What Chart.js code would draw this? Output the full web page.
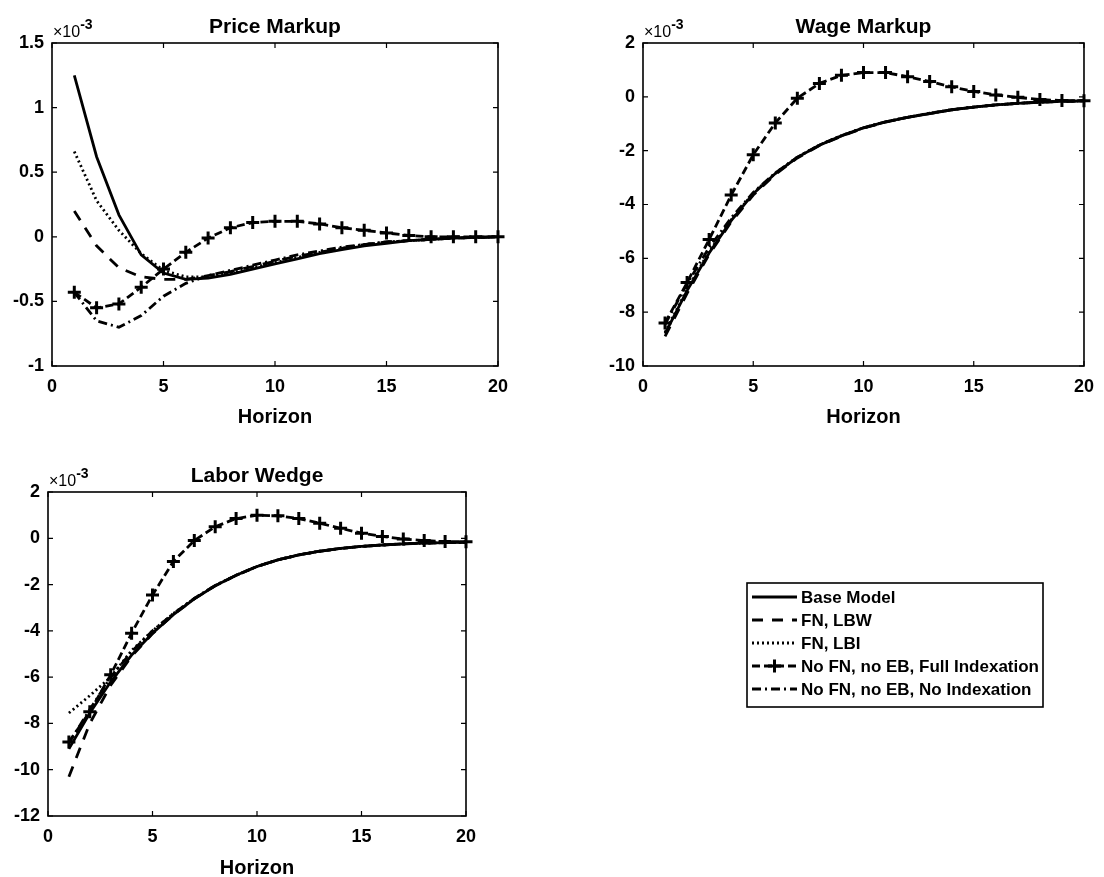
<!DOCTYPE html>
<html>
<head>
<meta charset="utf-8">
<title>Impulse responses: markups and labor wedge</title>
<script src="https://cdn.jsdelivr.net/npm/chart.js@4.4.1/dist/chart.umd.min.js"></script>
<style>
  html, body { margin: 0; padding: 0; background: #fff; width: 1104px; height: 877px; overflow: hidden; }
  canvas { position: absolute; display: block; }
</style>
</head>
<body>
<canvas id="price" width="560" height="430" style="left:0;top:0"></canvas>
<canvas id="wage" width="544" height="430" style="left:560px;top:0"></canvas>
<canvas id="labor" width="1104" height="460" style="left:0;top:430px"></canvas>
<script>
// ---- data (values in units of 10^-3) ----
const horizon = [1, 2, 3, 4, 5, 6, 7, 8, 9, 10, 11, 12, 13, 14, 15, 16, 17, 18, 19, 20];

const seriesNames = [
  'Base Model',
  'FN, LBW',
  'FN, LBI',
  'No FN, no EB, Full Indexation',
  'No FN, no EB, No Indexation'
];

const priceBase  = [1.25, 0.62, 0.17, -0.14, -0.28, -0.33, -0.32, -0.29, -0.25, -0.21, -0.17, -0.13, -0.10, -0.07, -0.05, -0.03, -0.02, -0.01, -0.005, 0];
const priceLBW   = [0.20, -0.07, -0.24, -0.31, -0.33, -0.33, -0.30, -0.27, -0.23, -0.19, -0.15, -0.12, -0.09, -0.06, -0.04, -0.03, -0.02, -0.01, -0.005, 0];
const priceLBI   = [0.66, 0.28, 0.05, -0.13, -0.26, -0.31, -0.31, -0.28, -0.24, -0.20, -0.16, -0.12, -0.09, -0.06, -0.04, -0.03, -0.02, -0.01, -0.005, 0];
const priceFull  = [-0.43, -0.55, -0.52, -0.39, -0.25, -0.12, -0.01, 0.07, 0.11, 0.12, 0.12, 0.10, 0.07, 0.05, 0.03, 0.01, 0.0, 0.0, 0.0, 0.0];
const priceNoIdx = [-0.43, -0.65, -0.70, -0.61, -0.46, -0.36, -0.30, -0.26, -0.22, -0.18, -0.14, -0.11, -0.08, -0.06, -0.04, -0.03, -0.02, -0.01, -0.005, 0];

const wageBase  = [-8.8, -7.2, -5.8, -4.6, -3.6, -2.85, -2.25, -1.8, -1.45, -1.15, -0.93, -0.76, -0.62, -0.48, -0.38, -0.30, -0.24, -0.20, -0.17, -0.15];
const wageLBW   = [-8.9, -7.3, -5.85, -4.65, -3.65, -2.88, -2.27, -1.81, -1.46, -1.16, -0.94, -0.76, -0.62, -0.48, -0.38, -0.30, -0.24, -0.20, -0.17, -0.15];
const wageLBI   = [-8.75, -7.15, -5.75, -4.57, -3.58, -2.83, -2.24, -1.79, -1.44, -1.15, -0.93, -0.76, -0.61, -0.48, -0.38, -0.30, -0.24, -0.20, -0.17, -0.15];
const wageFull  = [-8.4, -6.9, -5.3, -3.65, -2.15, -0.97, -0.05, 0.5, 0.8, 0.9, 0.9, 0.75, 0.57, 0.37, 0.2, 0.07, -0.02, -0.1, -0.14, -0.15];
const wageNoIdx = [-8.45, -6.95, -5.6, -4.5, -3.55, -2.83, -2.24, -1.79, -1.44, -1.15, -0.93, -0.76, -0.61, -0.48, -0.38, -0.30, -0.24, -0.20, -0.17, -0.15];

const laborBase  = [-9.1, -7.55, -6.2, -5.05, -4.1, -3.3, -2.62, -2.05, -1.6, -1.22, -0.93, -0.72, -0.56, -0.44, -0.35, -0.29, -0.24, -0.21, -0.19, -0.18];
const laborLBW   = [-10.3, -8.0, -6.35, -5.1, -4.12, -3.3, -2.62, -2.05, -1.6, -1.22, -0.93, -0.72, -0.56, -0.44, -0.35, -0.29, -0.24, -0.21, -0.19, -0.18];
const laborLBI   = [-7.55, -6.8, -6.0, -4.85, -4.0, -3.25, -2.6, -2.04, -1.6, -1.22, -0.93, -0.72, -0.56, -0.44, -0.35, -0.29, -0.24, -0.21, -0.19, -0.18];
const laborFull  = [-8.8, -7.5, -5.9, -4.1, -2.45, -1.0, -0.1, 0.5, 0.85, 1.0, 0.97, 0.85, 0.65, 0.43, 0.22, 0.08, -0.03, -0.1, -0.14, -0.15];
const laborNoIdx = [-8.85, -7.4, -6.0, -4.9, -4.0, -3.25, -2.6, -2.04, -1.6, -1.22, -0.93, -0.72, -0.56, -0.44, -0.35, -0.29, -0.24, -0.21, -0.19, -0.18];

// ---- axis ticks ----
const horizonTicks = [0, 5, 10, 15, 20];
const priceTicks = [-1, -0.5, 0, 0.5, 1, 1.5];
const wageTicks  = [-10, -8, -6, -4, -2, 0, 2];
const laborTicks = [-12, -10, -8, -6, -4, -2, 0, 2];

// ---- styling ----
const FONT = '"Liberation Sans", Arial, Helvetica, sans-serif';
Chart.defaults.font.family = FONT;
Chart.defaults.color = '#000';

const lineStyles = [
  { borderDash: [],            marker: null },
  { borderDash: [11, 9],       marker: null },
  { borderDash: [2, 3],        marker: null },
  { borderDash: [8, 4],        marker: 'cross' },
  { borderDash: [9, 4, 2, 4],  marker: null }
];

function makeDatasets(seriesList) {
  return seriesList.map((values, i) => {
    const st = lineStyles[i];
    return {
      label: seriesNames[i],
      data: horizon.map((h, k) => ({ x: h, y: values[k] })),
      borderColor: '#000',
      backgroundColor: '#000',
      borderWidth: 2.8,
      borderDash: st.borderDash,
      pointStyle: st.marker || 'circle',
      pointRadius: st.marker ? 6.5 : 0,
      pointBorderWidth: 3,
      pointBorderColor: '#000',
      pointHoverRadius: 0,
      tension: 0,
      clip: false,
      fill: false
    };
  });
}

// Box around the axes, inward tick marks, panel title and the x10^-3 multiplier
const axesDecor = {
  id: 'axesDecor',
  afterDraw(chart, args, opts) {
    const { ctx, chartArea: a, scales } = chart;
    const x = scales.x, y = scales.y;
    ctx.save();
    ctx.setLineDash([]);
    ctx.strokeStyle = '#000';
    ctx.lineWidth = 1.6;
    ctx.strokeRect(a.left, a.top, a.right - a.left, a.bottom - a.top);
    ctx.lineWidth = 1.2;
    const tl = 5;
    ctx.beginPath();
    x.ticks.forEach(t => {
      const px = x.getPixelForValue(t.value);
      ctx.moveTo(px, a.bottom); ctx.lineTo(px, a.bottom - tl);
      ctx.moveTo(px, a.top);    ctx.lineTo(px, a.top + tl);
    });
    y.ticks.forEach(t => {
      const py = y.getPixelForValue(t.value);
      ctx.moveTo(a.left, py);  ctx.lineTo(a.left + tl, py);
      ctx.moveTo(a.right, py); ctx.lineTo(a.right - tl, py);
    });
    ctx.stroke();

    ctx.fillStyle = '#000';
    ctx.textBaseline = 'alphabetic';
    ctx.textAlign = 'center';
    ctx.font = 'bold 21px ' + FONT;
    ctx.fillText(opts.title, (a.left + a.right) / 2, a.top - 10);

    ctx.textAlign = 'left';
    ctx.font = '16px ' + FONT;
    const base = '\u00d710';
    ctx.fillText(base, a.left + 1, a.top - 6);
    const w = ctx.measureText(base).width;
    ctx.font = 'bold 14px ' + FONT;
    ctx.fillText('-3', a.left + 1 + w, a.top - 14);
    ctx.restore();
  }
};

// Shared legend box, drawn beside the lower panel
const sideLegend = {
  id: 'sideLegend',
  afterDraw(chart, args, opts) {
    const { ctx } = chart;
    const b = opts.box;
    ctx.save();
    ctx.fillStyle = '#fff';
    ctx.fillRect(b.left, b.top, b.width, b.height);
    ctx.strokeStyle = '#000';
    ctx.lineWidth = 1.6;
    ctx.setLineDash([]);
    ctx.strokeRect(b.left, b.top, b.width, b.height);
    chart.data.datasets.forEach((ds, i) => {
      const yy = b.top + opts.firstRow + i * opts.rowGap;
      const x0 = b.left + 5, x1 = b.left + 50;
      ctx.strokeStyle = '#000';
      ctx.lineWidth = ds.borderWidth;
      ctx.setLineDash(ds.borderDash || []);
      ctx.beginPath();
      ctx.moveTo(x0, yy); ctx.lineTo(x1, yy);
      ctx.stroke();
      ctx.setLineDash([]);
      if (ds.pointRadius > 0) {
        const cx = (x0 + x1) / 2, r = ds.pointRadius;
        ctx.lineWidth = ds.pointBorderWidth;
        ctx.beginPath();
        ctx.moveTo(cx - r, yy); ctx.lineTo(cx + r, yy);
        ctx.moveTo(cx, yy - r); ctx.lineTo(cx, yy + r);
        ctx.stroke();
      }
      ctx.fillStyle = '#000';
      ctx.font = 'bold 17px ' + FONT;
      ctx.textAlign = 'left';
      ctx.textBaseline = 'middle';
      ctx.fillText(ds.label, b.left + 54, yy + 1);
    });
    ctx.restore();
  }
};

function makeChart(id, seriesList, yTicks, cfg) {
  const ctx = document.getElementById(id);
  return new Chart(ctx, {
    type: 'line',
    data: { datasets: makeDatasets(seriesList) },
    options: {
      responsive: false,
      animation: false,
      devicePixelRatio: 1,
      events: [],
      layout: { padding: cfg.padding },
      plugins: {
        legend: { display: false },
        tooltip: { enabled: false },
        axesDecor: { title: cfg.title },
        sideLegend: cfg.legend || false
      },
      scales: {
        x: {
          type: 'linear',
          min: horizonTicks[0],
          max: horizonTicks[horizonTicks.length - 1],
          afterBuildTicks: s => { s.ticks = horizonTicks.map(v => ({ value: v })); },
          afterFit: s => { s.height = cfg.xHeight; },
          grid: { display: false, drawTicks: false },
          border: { display: false },
          ticks: {
            padding: 10,
            font: { size: 18, weight: 'bold' },
            callback: v => String(v),
            maxRotation: 0
          },
          title: {
            display: true,
            text: 'Horizon',
            font: { size: 20, weight: 'bold' },
            padding: { top: 0, bottom: cfg.titlePad }
          }
        },
        y: {
          type: 'linear',
          min: yTicks[0],
          max: yTicks[yTicks.length - 1],
          afterBuildTicks: s => { s.ticks = yTicks.map(v => ({ value: v })); },
          afterFit: s => { s.width = cfg.yWidth; },
          grid: { display: false, drawTicks: false },
          border: { display: false },
          ticks: {
            padding: 8,
            font: { size: 18, weight: 'bold' },
            callback: v => String(v)
          }
        }
      }
    },
    plugins: cfg.legend ? [axesDecor, sideLegend] : [axesDecor]
  });
}

makeChart('price', [priceBase, priceLBW, priceLBI, priceFull, priceNoIdx], priceTicks, {
  title: 'Price Markup',
  padding: { top: 43, right: 62, bottom: 0, left: 0 },
  xHeight: 64, yWidth: 52, titlePad: 1
});

makeChart('wage', [wageBase, wageLBW, wageLBI, wageFull, wageNoIdx], wageTicks, {
  title: 'Wage Markup',
  padding: { top: 43, right: 12, bottom: 0, left: 0 },
  xHeight: 64, yWidth: 83, titlePad: 1
});

makeChart('labor', [laborBase, laborLBW, laborLBI, laborFull, laborNoIdx], laborTicks, {
  title: 'Labor Wedge',
  padding: { top: 62, right: 638, bottom: 0, left: 0 },
  xHeight: 74, yWidth: 48, titlePad: 10,
  legend: { box: { left: 747, top: 153, width: 296, height: 124 }, firstRow: 14, rowGap: 23 }
});
</script>
</body>
</html>
